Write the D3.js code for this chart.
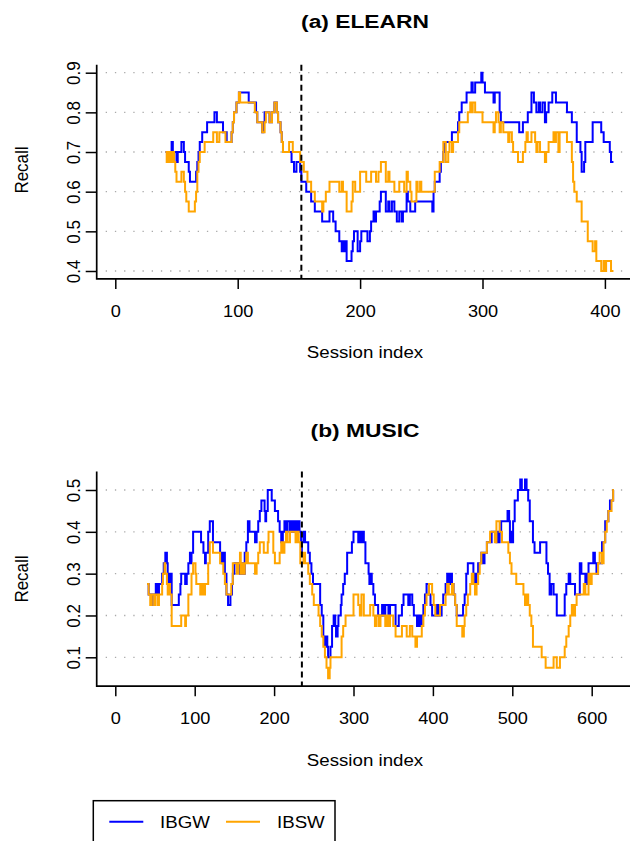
<!DOCTYPE html>
<html><head><meta charset="utf-8">
<script src="https://cdn.jsdelivr.net/npm/d3@7"></script>
<style>html,body{margin:0;padding:0;background:#fff;}svg{display:block;}</style>
</head><body>
<script>
// ---------------- DATA (session index, recall) change points ----------------
const elearnTitle = "(a) ELEARN";
const musicTitle = "(b) MUSIC";
const seriesNames = ["IBGW", "IBSW"];
const seriesColors = ["#0000FF", "#FFA500"];
const elearnXTicks = [0, 100, 200, 300, 400];
const elearnYTicks = [0.4, 0.5, 0.6, 0.7, 0.8, 0.9];
const musicXTicks = [0, 100, 200, 300, 400, 500, 600];
const musicYTicks = [0.1, 0.2, 0.3, 0.4, 0.5];
const elearnSplit = 152;
const musicSplit = 235;

const elearnIBGW = [[41,0.7],[43,0.675],[45,0.7],[46,0.725],[47,0.7],[50,0.675],[51,0.7],[54,0.725],[56,0.7],[57,0.675],[60,0.65],[61,0.625],[66,0.65],[67,0.675],[68,0.7],[69,0.725],[71,0.75],[75,0.775],[81,0.8],[83,0.775],[88,0.75],[91,0.725],[95,0.75],[96,0.775],[97,0.8],[99,0.825],[101,0.85],[109,0.825],[115,0.8],[116,0.775],[120,0.75],[121,0.775],[122,0.8],[126,0.775],[128,0.8],[130,0.825],[132,0.8],[133,0.775],[135,0.75],[136,0.725],[137,0.7],[144,0.675],[146,0.65],[148,0.675],[151,0.65],[152,0.625],[156,0.6],[160,0.575],[163,0.55],[169,0.525],[175,0.55],[178,0.525],[180,0.5],[183,0.475],[185,0.45],[186,0.475],[187,0.45],[188,0.475],[189,0.425],[193,0.45],[194,0.475],[195,0.5],[198,0.45],[200,0.475],[201,0.5],[206,0.475],[208,0.5],[209,0.525],[211,0.55],[212,0.525],[213,0.55],[216,0.575],[217,0.6],[221,0.55],[223,0.575],[224,0.55],[226,0.575],[228,0.55],[230,0.525],[232,0.55],[234,0.525],[235,0.55],[238,0.6],[239,0.575],[241,0.55],[245,0.575],[259,0.55],[260,0.6],[261,0.625],[265,0.65],[266,0.675],[268,0.7],[269,0.725],[275,0.75],[280,0.775],[281,0.8],[283,0.825],[287,0.85],[291,0.875],[292,0.85],[294,0.875],[299,0.9],[300,0.875],[302,0.85],[309,0.825],[310,0.85],[314,0.8],[315,0.775],[330,0.75],[333,0.775],[337,0.8],[340,0.85],[342,0.825],[344,0.8],[346,0.825],[347,0.8],[349,0.825],[351,0.775],[352,0.8],[354,0.825],[357,0.85],[360,0.825],[369,0.8],[373,0.775],[377,0.725],[380,0.7],[381,0.65],[383,0.675],[384,0.725],[390,0.775],[397,0.75],[399,0.725],[404,0.7],[405,0.675],[407,0.675]];

const elearnIBSW = [[41,0.7],[42,0.675],[43,0.7],[44,0.675],[45,0.7],[46,0.675],[47,0.7],[48,0.675],[49,0.65],[50,0.625],[54,0.65],[56,0.625],[57,0.6],[58,0.575],[60,0.55],[65,0.575],[66,0.6],[67,0.65],[68,0.675],[69,0.7],[73,0.725],[80,0.75],[83,0.725],[85,0.75],[90,0.725],[95,0.75],[96,0.775],[97,0.8],[99,0.825],[101,0.85],[102,0.825],[114,0.8],[116,0.775],[120,0.75],[122,0.775],[123,0.8],[126,0.775],[128,0.8],[130,0.825],[132,0.8],[133,0.775],[135,0.75],[136,0.725],[137,0.7],[142,0.725],[145,0.7],[151,0.675],[154,0.65],[157,0.625],[160,0.6],[163,0.575],[169,0.55],[170,0.575],[172,0.6],[175,0.625],[183,0.6],[185,0.625],[186,0.6],[189,0.55],[193,0.575],[194,0.625],[196,0.6],[200,0.65],[205,0.625],[209,0.65],[213,0.625],[215,0.65],[217,0.675],[221,0.625],[223,0.65],[224,0.625],[228,0.6],[232,0.625],[236,0.6],[238,0.65],[239,0.625],[241,0.6],[242,0.575],[246,0.625],[247,0.6],[249,0.625],[250,0.6],[261,0.65],[265,0.675],[268,0.725],[270,0.675],[272,0.7],[273,0.725],[275,0.7],[276,0.725],[280,0.75],[281,0.775],[288,0.8],[290,0.825],[291,0.8],[292,0.825],[294,0.8],[300,0.775],[309,0.75],[310,0.775],[311,0.8],[313,0.775],[314,0.75],[315,0.775],[317,0.75],[321,0.725],[322,0.75],[324,0.725],[325,0.7],[329,0.675],[333,0.7],[335,0.725],[336,0.75],[337,0.725],[340,0.75],[343,0.725],[344,0.7],[345,0.725],[347,0.7],[351,0.675],[352,0.7],[354,0.725],[358,0.75],[359,0.725],[360,0.75],[362,0.7],[363,0.75],[369,0.725],[373,0.675],[374,0.625],[375,0.6],[377,0.575],[381,0.525],[386,0.475],[390,0.45],[392,0.475],[393,0.425],[397,0.4],[399,0.425],[400,0.4],[401,0.425],[405,0.4],[407,0.4]];

const musicIBGW = [[40,0.275],[42,0.25],[45,0.225],[47,0.25],[51,0.275],[53,0.25],[55,0.275],[59,0.3],[61,0.325],[63,0.35],[65,0.325],[66,0.3],[67,0.275],[69,0.3],[71,0.225],[80,0.25],[82,0.275],[83,0.3],[88,0.275],[90,0.3],[92,0.325],[94,0.35],[95,0.325],[96,0.35],[98,0.4],[108,0.375],[111,0.35],[113,0.325],[114,0.35],[117,0.4],[119,0.425],[123,0.375],[132,0.35],[134,0.325],[136,0.35],[138,0.3],[140,0.25],[142,0.225],[145,0.25],[147,0.275],[148,0.3],[150,0.325],[157,0.3],[159,0.325],[161,0.3],[163,0.35],[165,0.375],[167,0.425],[169,0.4],[176,0.375],[178,0.4],[180,0.425],[182,0.45],[184,0.475],[188,0.45],[189,0.425],[190,0.45],[192,0.5],[197,0.475],[201,0.45],[205,0.425],[207,0.4],[209,0.375],[211,0.4],[213,0.425],[215,0.4],[217,0.425],[220,0.4],[222,0.425],[224,0.4],[226,0.425],[228,0.4],[230,0.425],[232,0.4],[234,0.35],[235,0.375],[237,0.4],[239,0.375],[243,0.35],[245,0.325],[247,0.3],[249,0.275],[258,0.225],[260,0.2],[262,0.15],[264,0.125],[266,0.15],[267,0.125],[268,0.1],[271,0.125],[273,0.175],[275,0.2],[277,0.175],[278,0.15],[280,0.175],[281,0.2],[284,0.225],[285,0.25],[287,0.275],[289,0.3],[292,0.35],[298,0.375],[300,0.4],[306,0.375],[308,0.4],[309,0.375],[311,0.4],[313,0.375],[315,0.325],[319,0.3],[320,0.275],[322,0.3],[323,0.275],[325,0.25],[327,0.225],[331,0.2],[336,0.225],[338,0.2],[340,0.225],[344,0.2],[346,0.225],[353,0.175],[357,0.2],[361,0.225],[363,0.25],[369,0.225],[371,0.25],[374,0.225],[376,0.2],[380,0.175],[382,0.2],[384,0.175],[386,0.2],[388,0.225],[390,0.25],[392,0.275],[395,0.25],[397,0.225],[399,0.2],[405,0.225],[407,0.2],[411,0.225],[413,0.25],[416,0.275],[418,0.3],[420,0.275],[422,0.3],[424,0.275],[426,0.25],[428,0.225],[430,0.2],[438,0.225],[440,0.25],[442,0.3],[444,0.325],[451,0.3],[453,0.275],[455,0.3],[457,0.325],[461,0.35],[463,0.325],[465,0.35],[468,0.375],[474,0.4],[480,0.375],[481,0.4],[483,0.375],[484,0.4],[486,0.425],[494,0.45],[496,0.425],[497,0.375],[498,0.4],[500,0.375],[501,0.425],[503,0.475],[507,0.5],[510,0.525],[512,0.5],[516,0.525],[518,0.5],[520,0.475],[522,0.425],[526,0.375],[528,0.35],[535,0.375],[543,0.325],[545,0.3],[547,0.25],[549,0.275],[552,0.25],[556,0.2],[566,0.25],[568,0.275],[571,0.3],[573,0.275],[579,0.25],[585,0.325],[587,0.3],[592,0.275],[594,0.3],[596,0.325],[602,0.35],[604,0.325],[606,0.3],[608,0.325],[613,0.375],[617,0.425],[621,0.45],[623,0.475],[627,0.5],[628,0.5]];

const musicIBSW = [[40,0.275],[42,0.25],[44,0.225],[46,0.25],[49,0.225],[50,0.25],[53,0.225],[55,0.25],[59,0.275],[60,0.3],[62,0.325],[63,0.3],[65,0.275],[66,0.25],[67,0.275],[69,0.25],[71,0.175],[83,0.2],[88,0.175],[89,0.2],[92,0.25],[96,0.3],[98,0.325],[101,0.3],[102,0.275],[107,0.25],[109,0.275],[111,0.25],[113,0.275],[117,0.325],[119,0.375],[123,0.35],[132,0.325],[136,0.3],[138,0.275],[140,0.25],[146,0.275],[148,0.325],[153,0.3],[155,0.325],[157,0.35],[158,0.3],[160,0.325],[162,0.3],[163,0.325],[165,0.35],[167,0.325],[176,0.3],[178,0.325],[180,0.35],[182,0.375],[187,0.35],[192,0.375],[193,0.4],[199,0.35],[201,0.325],[207,0.35],[209,0.375],[211,0.35],[213,0.375],[215,0.4],[217,0.375],[220,0.4],[227,0.375],[229,0.4],[231,0.375],[233,0.325],[237,0.35],[239,0.325],[243,0.3],[245,0.275],[248,0.25],[250,0.225],[256,0.2],[258,0.175],[260,0.15],[262,0.125],[264,0.1],[266,0.075],[268,0.05],[270,0.075],[271,0.1],[285,0.15],[287,0.175],[290,0.2],[300,0.25],[306,0.225],[308,0.2],[310,0.25],[313,0.2],[321,0.225],[325,0.2],[327,0.175],[329,0.2],[332,0.175],[334,0.2],[340,0.175],[342,0.2],[344,0.175],[346,0.2],[350,0.175],[353,0.15],[361,0.175],[367,0.15],[371,0.175],[374,0.15],[378,0.125],[380,0.15],[386,0.175],[388,0.2],[390,0.225],[392,0.25],[395,0.275],[399,0.25],[401,0.225],[403,0.2],[409,0.225],[416,0.25],[418,0.275],[420,0.25],[424,0.275],[426,0.25],[428,0.225],[430,0.175],[437,0.15],[439,0.175],[440,0.2],[442,0.225],[444,0.25],[447,0.275],[449,0.3],[451,0.275],[453,0.25],[455,0.275],[457,0.3],[459,0.325],[461,0.35],[468,0.375],[472,0.4],[478,0.375],[480,0.425],[484,0.4],[487,0.375],[495,0.35],[497,0.325],[499,0.3],[505,0.275],[514,0.25],[516,0.225],[518,0.25],[520,0.225],[522,0.2],[524,0.175],[526,0.125],[537,0.1],[542,0.075],[552,0.1],[556,0.075],[560,0.1],[566,0.125],[568,0.15],[571,0.175],[573,0.2],[575,0.225],[577,0.2],[579,0.225],[581,0.25],[590,0.275],[592,0.25],[596,0.3],[598,0.275],[600,0.3],[608,0.325],[610,0.35],[613,0.325],[615,0.375],[617,0.4],[619,0.425],[621,0.45],[625,0.475],[627,0.5],[628,0.5]];

// ---------------- DRAWING ----------------
const W = 633, H = 841;
const FONT = "'Liberation Sans', Arial, Helvetica, sans-serif";
const SX = 1.1; // horizontal stretch of the reference's text
const svg = d3.select("body").append("svg").attr("width", W).attr("height", H)
  .style("font-family", FONT);

function label(g, x, y, txt, o = {}) {
  return g.append("text")
    .attr("transform", `translate(${x},${y}) scale(${o.sx || SX},1) rotate(${o.rot || 0})`)
    .attr("text-anchor", o.anchor || "middle")
    .attr("font-size", o.size || 17)
    .attr("font-weight", o.weight || "normal")
    .attr("fill", "#000")
    .text(txt);
}

const panels = [
  { title: elearnTitle, xTicks: elearnXTicks, yTicks: elearnYTicks, series: [elearnIBGW, elearnIBSW], split: elearnSplit,
    xDom: [0, 400], xRange: [115.3, 604.9], yDom: [0.4, 0.9], yRange: [271, 72.7], yLim: [0.38, 0.92],
    titleY: 28, recallY: 170, xlabY: 358 },
  { title: musicTitle, xTicks: musicXTicks, yTicks: musicYTicks, series: [musicIBGW, musicIBSW], split: musicSplit,
    xDom: [0, 600], xRange: [115.3, 591.7], yDom: [0.1, 0.5], yRange: [657.3, 490], yLim: [0.031, 0.544],
    titleY: 436.7, recallY: 579, xlabY: 766 }
];

const plotLeft = 96.7, plotRight = 630;

panels.forEach(p => {
  const x = d3.scaleLinear().domain(p.xDom).range(p.xRange);
  const y = d3.scaleLinear().domain(p.yDom).range(p.yRange);
  const top = y(p.yLim[1]), bottom = y(p.yLim[0]);
  const g = svg.append("g");

  // grid
  g.append("g").selectAll("line").data(p.yTicks).join("line")
    .attr("x1", plotLeft + 9).attr("x2", plotRight)
    .attr("y1", d => y(d)).attr("y2", d => y(d))
    .attr("stroke", "#aaaaaa").attr("stroke-width", 1.3)
    .attr("stroke-dasharray", "1.3,7.9");

  // series
  const line = d3.line().x(d => x(d[0])).y(d => y(d[1])).curve(d3.curveStepAfter);
  p.series.forEach((s, i) => {
    g.append("path").datum(s).attr("d", line)
      .attr("fill", "none").attr("stroke", seriesColors[i])
      .attr("stroke-width", 2).attr("stroke-linejoin", "miter");
  });

  // split line
  g.append("line").attr("x1", x(p.split)).attr("x2", x(p.split))
    .attr("y1", top).attr("y2", bottom)
    .attr("stroke", "#000").attr("stroke-width", 2).attr("stroke-dasharray", "6,4");

  // axes
  const xa = g.append("g").attr("transform", `translate(0,${bottom})`)
    .call(d3.axisBottom(x).tickValues(p.xTicks).tickSize(10).tickSizeOuter(0).tickFormat(d3.format("d")));
  xa.select(".domain").remove();
  xa.selectAll(".tick line").attr("stroke", "#000").attr("stroke-width", 1.5);
  xa.selectAll(".tick text").attr("y", 37.7).attr("dy", 0).attr("font-size", 16.5)
    .attr("font-family", FONT).attr("fill", "#000").attr("transform", `scale(${SX},1)`);

  const ya = g.append("g").attr("transform", `translate(${plotLeft},0)`)
    .call(d3.axisLeft(y).tickValues(p.yTicks).tickSize(11).tickSizeOuter(0).tickFormat(d3.format(".1f")));
  ya.select(".domain").remove();
  ya.selectAll(".tick line").attr("stroke", "#000").attr("stroke-width", 1.5);
  ya.selectAll(".tick text").attr("x", 0).attr("y", 0).attr("dy", 0)
    .attr("text-anchor", "middle").attr("font-size", 17).attr("font-family", FONT).attr("fill", "#000")
    .attr("transform", `translate(-16.7,0) scale(${SX},1) rotate(-90)`);

  // L-shaped box
  g.append("path")
    .attr("d", `M${plotLeft},${top}V${bottom}H${plotRight}`)
    .attr("fill", "none").attr("stroke", "#000").attr("stroke-width", 1.7);

  // labels
  label(g, 365, p.titleY, p.title, { size: 19, weight: "bold", sx: 1.2 });
  label(g, 365, p.xlabY, "Session index", { size: 17 });
  label(g, 28, p.recallY, "Recall", { size: 17, rot: -90 });
});

// legend
const lg = svg.append("g");
lg.append("rect").attr("x", 93.3).attr("y", 800.7).attr("width", 241.7).attr("height", 60)
  .attr("fill", "none").attr("stroke", "#000").attr("stroke-width", 1.5);
const legX = [[109.3, 143.3, 160], [226, 260, 277]];
seriesNames.forEach((n, i) => {
  lg.append("line").attr("x1", legX[i][0]).attr("x2", legX[i][1]).attr("y1", 821.7).attr("y2", 821.7)
    .attr("stroke", seriesColors[i]).attr("stroke-width", 2);
  label(lg, legX[i][2], 827.8, n, { size: 17, anchor: "start" });
});
</script>
</body></html>
